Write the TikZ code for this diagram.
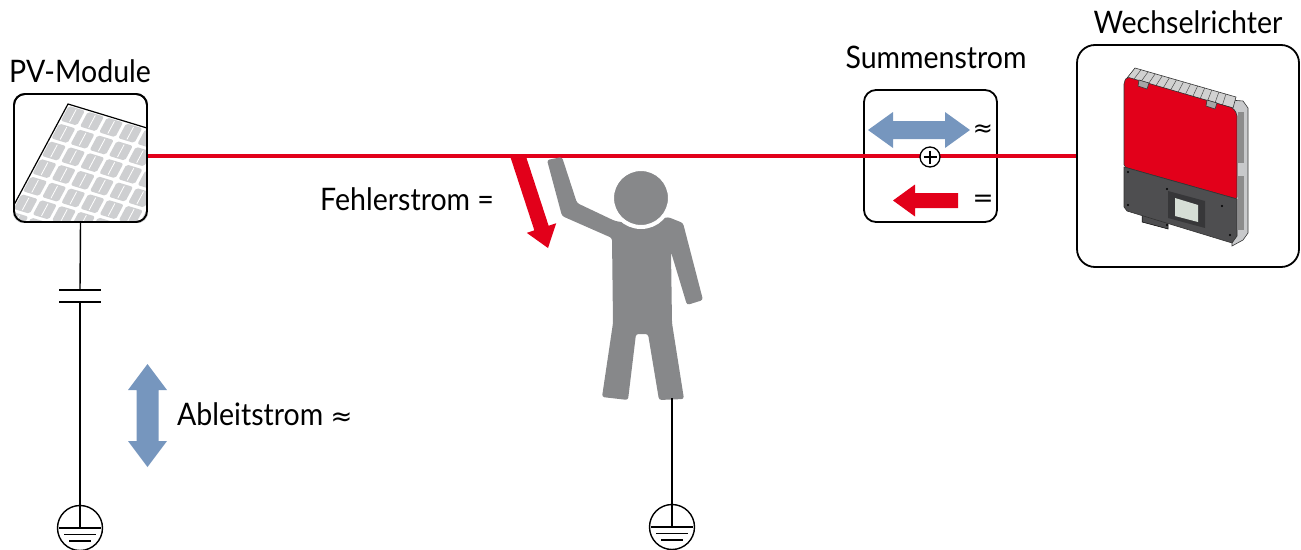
\documentclass[tikz,border=0pt]{standalone}
\usepackage{fontspec}
\setmainfont{Lato}[FakeStretch=0.92]
\newfontfamily\symfont{DejaVu Sans}
\usetikzlibrary{calc}

\definecolor{smared}{RGB}{226,0,26}
\definecolor{flowblue}{RGB}{118,150,190}
\definecolor{figgray}{RGB}{135,136,138}
\definecolor{cellgray}{RGB}{206,207,209}
\definecolor{housingdark}{RGB}{78,78,80}
\definecolor{housingside}{RGB}{200,201,203}
\definecolor{lcdgreen}{RGB}{214,222,214}
\definecolor{framedark}{RGB}{55,55,57}

% filled block arrow: style, tail, tip, shaft half width, head half width, head length
\newcommand\fatarrow[6]{%
  \path (#2) coordinate (fa-tail) (#3) coordinate (fa-tip);
  \path ($(fa-tip)!#6!(fa-tail)$) coordinate (fa-base);
  \fill[#1] ($(fa-tail)!#4!90:(fa-tip)$) -- ($(fa-base)!#4!90:(fa-tip)$)
    -- ($(fa-base)!#5!90:(fa-tip)$) -- (fa-tip) -- ($(fa-base)!#5!-90:(fa-tip)$)
    -- ($(fa-base)!#4!-90:(fa-tip)$) -- ($(fa-tail)!#4!-90:(fa-tip)$) -- cycle;
}
% filled double-headed block arrow: style, end A, end B, shaft hw, head hw, head length
\newcommand\dblarrow[6]{%
  \path (#2) coordinate (da-a) (#3) coordinate (da-b);
  \path ($(da-a)!#6!(da-b)$) coordinate (da-ab) ($(da-b)!#6!(da-a)$) coordinate (da-bb);
  \fill[#1] (da-a) -- ($(da-ab)!#5!90:(da-b)$) -- ($(da-ab)!#4!90:(da-b)$)
    -- ($(da-bb)!#4!-90:(da-a)$) -- ($(da-bb)!#5!-90:(da-a)$) -- (da-b)
    -- ($(da-bb)!#5!90:(da-a)$) -- ($(da-bb)!#4!90:(da-a)$)
    -- ($(da-ab)!#4!-90:(da-b)$) -- ($(da-ab)!#5!-90:(da-b)$) -- cycle;
}

\tikzset{
  roundbox/.style={draw=black, line width=1.8pt, rounded corners=#1, inner sep=0pt},
  labeltext/.style={font=\fontsize{31}{31}\selectfont, inner sep=0pt, anchor=base},
  wire/.style={line width=1.4pt},
  mainline/.style={smared, line width=3.5pt},
  invline/.style={draw=black!80, line width=0.6pt},
}

\begin{document}
\begin{tikzpicture}[x=1pt,y=-1pt]
\useasboundingbox (0,0) rectangle (1301,549);

% ---------- boxes ----------
\node[roundbox=11pt, minimum width=133pt, minimum height=128pt] (pv) at (80.5,158) {};
\node[roundbox=12pt, minimum width=133pt, minimum height=132pt] (sum) at (930.5,156) {};
\node[roundbox=18pt, minimum width=222pt, minimum height=222pt] (inv) at (1188,156) {};

% ---------- solar panel inside the PV box ----------
\begin{scope}
  \clip[rounded corners=10pt] (pv.south west) rectangle (pv.north east);
  \begin{scope}[shift={(68,104)}, x={(0.957pt,-0.291pt)}, y={(-0.472pt,-0.882pt)}]
    \foreach \i in {0,...,7} \foreach \j in {0,...,6} {
      \fill[cellgray, rounded corners=2pt] (\i*20+1.6,\j*20+1.6) -- ++(16.8,0) -- ++(0,16.8) -- ++(-16.8,0) -- cycle;
      \draw[white, line width=0.8pt] (\i*20+10,\j*20+3) -- ++(0,14);
    }
    \draw[line width=1.2pt] (0,170) -- (0,0) -- (140,0);
  \end{scope}
\end{scope}
\node[roundbox=11pt, minimum width=133pt, minimum height=128pt] at (pv.center) {};

% ---------- labels ----------
\node[labeltext] (pvlabel) at (80,82) {PV-Module};
\node[labeltext] (sumlabel) at (936,68) {Summenstrom};
\node[labeltext] (invlabel) at (1188,33) {Wechselrichter};
\node[labeltext, anchor=base west] (faultlabel) at (320,210) {Fehlerstrom =};
\node[labeltext, anchor=base west] (leaklabel) at (177,425) {Ableitstrom {\symfont\fontsize{26}{26}\selectfont ≈}};

% ---------- fault current arrow (below the line) ----------
\coordinate (fault-tail) at (516,150);
\coordinate (fault-tip) at (548,248);
\begin{scope}
  \clip (0,154.5) rectangle (1301,549);
  \fatarrow{smared}{fault-tail}{fault-tip}{7.5pt}{15.5pt}{21pt}
\end{scope}

% ---------- main DC line ----------
\draw[mainline] (pv.east |- sum.center) -- (inv.west |- sum.center);

% ---------- residual current monitor ----------
\coordinate (ac-l) at (868,130);
\coordinate (ac-r) at (970,130);
\dblarrow{flowblue}{ac-l}{ac-r}{9pt}{18pt}{25pt}
\coordinate (dc-tail) at (958,200.5);
\coordinate (dc-tip) at (893,200.5);
\fatarrow{smared}{dc-tail}{dc-tip}{7.5pt}{16pt}{22pt}
\node[inner sep=0pt, font=\symfont\fontsize{24}{24}\selectfont] (acsym) at (983,131) {≈};
\node[inner sep=0pt, font=\symfont\fontsize{25}{25}\selectfont] (dcsym) at (983,201) {=};
\node[circle, draw=black, fill=white, line width=1.3pt, minimum size=20pt, inner sep=0pt] (plus) at (930,157) {};
\draw[line width=1.3pt] ($(plus.center)+(-6.5,0)$) -- ($(plus.center)+(6.5,0)$)
                        ($(plus.center)+(0,-6.5)$) -- ($(plus.center)+(0,6.5)$);

% ---------- PV earth path with capacitance ----------
\coordinate (cap1) at (80,290);
\coordinate (cap2) at (80,302);
\coordinate (gnd1) at (80,528);
\draw[wire] (pv.south) -- (cap1);
\draw[wire] ($(cap1)+(-21,0)$) -- ($(cap1)+(21,0)$);
\draw[wire] ($(cap2)+(-21,0)$) -- ($(cap2)+(21,0)$);
\draw[wire] (cap2) -- (gnd1);
\draw[wire] (gnd1) circle (22.5);
\draw[wire] ($(gnd1)+(-21,0)$) -- ($(gnd1)+(21,0)$)
            ($(gnd1)+(-16,6.5)$) -- ($(gnd1)+(16,6.5)$)
            ($(gnd1)+(-11,13)$) -- ($(gnd1)+(11,13)$);

% ---------- leakage current arrow ----------
\coordinate (leak-top) at (147.5,364);
\coordinate (leak-bot) at (147.5,467);
\dblarrow{flowblue}{leak-top}{leak-bot}{11pt}{19.5pt}{26pt}

% ---------- person ----------
\fill[figgray, rounded corners=2.5pt]
  (547,160) -- (562,216) -- (612,238) -- (613,323) -- (602,397) -- (628,400)
  -- (636,334) -- (648,334) -- (659,400) -- (684,399) -- (672,323) -- (671,252)
  -- (687,305) -- (703,300) -- (683,223) -- (668,217) -- (640,225) -- (615,221)
  -- (577,203) -- (562,157) -- cycle;
\fill[figgray, draw=white, line width=4pt] (641,198) circle (29);
\coordinate (feet) at (672,398);
\coordinate (gnd2) at (672,527);
\draw[wire] (feet) -- (gnd2);
\draw[wire] (gnd2) circle (22.5);
\draw[wire] ($(gnd2)+(-21,0)$) -- ($(gnd2)+(21,0)$)
            ($(gnd2)+(-16,6.5)$) -- ($(gnd2)+(16,6.5)$)
            ($(gnd2)+(-11,13)$) -- ($(gnd2)+(11,13)$);

% ---------- inverter ----------
% side panel
\fill[housingside, invline] (1230,100) -- (1243,101) -- (1248,108) -- (1248,233) -- (1243,240) -- (1232,246) -- cycle;
\fill[black!45] (1238,112) rectangle (1244,163);
\fill[black!45] (1238,176) rectangle (1244,230);
% cooling fins on top
\fill[black!18, invline] (1127,78) -- (1135,68) -- (1236,97) -- (1233,108) -- cycle;
\foreach \t in {0.06,0.13,...,0.97}
  \draw[black!70, line width=0.5pt] ($(1127,78)!\t!(1233,108)$) -- ($(1135,68)!\t!(1236,97)$);
% red lid
\fill[smared, invline, rounded corners=2pt] (1124,82) -- (1127,77) -- (1233,108) -- (1237,114) -- (1237,199) -- (1124,167) -- cycle;
\fill[black!35, invline] (1139,80) -- (1149,83) -- (1147,89) -- (1138,86) -- cycle;
\fill[black!35, invline] (1207,100) -- (1217,103) -- (1215,109) -- (1206,106) -- cycle;
% mounting bracket
\fill[housingdark, draw=black, line width=0.5pt] (1142,205) -- (1168,213) -- (1168,229) -- (1142,222) -- cycle;
% dark lower housing
\fill[housingdark, invline] (1124,167) -- (1237,199) -- (1237,236) -- (1232,243) -- (1127,211) -- (1124,207) -- cycle;
% display
\fill[framedark] (1168,191) -- (1205,201) -- (1205,228) -- (1168,218) -- cycle;
\fill[lcdgreen] (1175,198) -- (1198,205) -- (1198,222) -- (1175,216) -- cycle;
% screws
\foreach \p in {(1128,172),(1167,189),(1222,206),(1128,205),(1167,225),(1230,235)}
  \fill[black] \p circle (1.2);

\end{tikzpicture}
\end{document}
